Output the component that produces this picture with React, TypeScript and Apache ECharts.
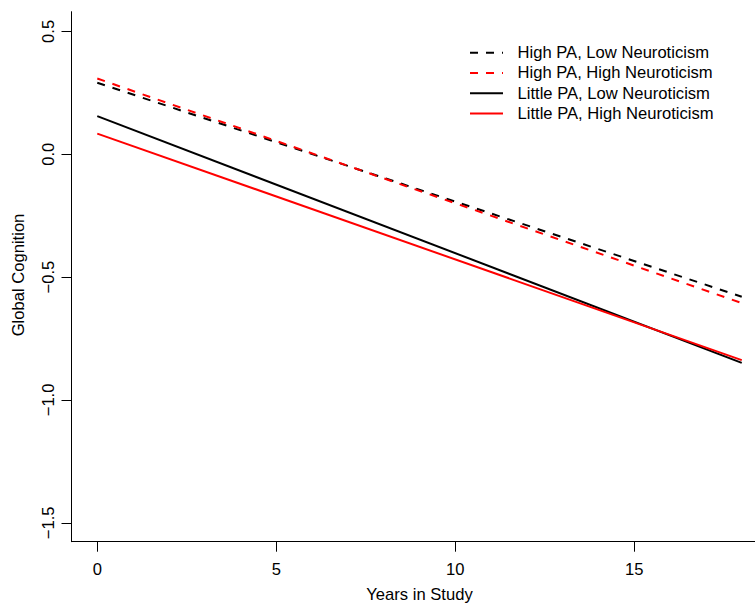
import React, { useEffect, useRef } from "react";
import * as echarts from "echarts";

const years = [0, 18];
const highPALowN = [0.291, -0.58];
const highPAHighN = [0.308, -0.606];
const littlePALowN = [0.155, -0.849];
const littlePAHighN = [0.084, -0.838];

const seriesNames = [
  "High PA, Low Neuroticism",
  "High PA, High Neuroticism",
  "Little PA, Low Neuroticism",
  "Little PA, High Neuroticism",
];
const xTicks = [0, 5, 10, 15];
const yTicks = [-1.5, -1.0, -0.5, 0.0, 0.5];

const FONT = "'Liberation Sans', Arial, Helvetica, sans-serif";
const FS = 16.6;

function pairs(vals: number[]) {
  return years.map((x, i) => [x, vals[i]]);
}

export default function App() {
  const ref = useRef<HTMLDivElement>(null);
  useEffect(() => {
    if (!ref.current) return;
    const chart = echarts.init(ref.current, undefined, { renderer: "svg" });
    const mk = (name: string, vals: number[], color: string, dashed: boolean) => ({
      name,
      type: "line",
      data: pairs(vals),
      symbol: "none",
      showSymbol: false,
      color,
      lineStyle: { color, width: 2, type: dashed ? [8, 8] : "solid" },
      emphasis: { disabled: true },
    });
    chart.setOption({
      animation: false,
      backgroundColor: "#fff",
      grid: { left: 71.5, top: 11.7, right: 0, height: 530, containLabel: false },
      xAxis: {
        type: "value",
        min: -0.72,
        max: 18.37,
        splitLine: { show: false },
        axisLine: { show: true, onZero: false, lineStyle: { color: "#000", width: 1 } },
        axisTick: { show: true, length: 10, customValues: xTicks, lineStyle: { color: "#000" } },
        axisLabel: {
          customValues: xTicks,
          margin: 19,
          color: "#000",
          fontSize: FS,
          fontFamily: FONT,
          formatter: (v: number) => String(v),
        },
      },
      yAxis: {
        type: "value",
        min: -1.577,
        max: 0.58,
        splitLine: { show: false },
        axisLine: { show: true, onZero: false, lineStyle: { color: "#000", width: 1 } },
        axisTick: { show: true, length: 10, customValues: yTicks, lineStyle: { color: "#000" } },
        axisLabel: {
          customValues: yTicks,
          rotate: 90,
          margin: 15,
          color: "#000",
          fontSize: FS,
          fontFamily: FONT,
          formatter: (v: number) => (v < 0 ? "\u2212" : "") + Math.abs(v).toFixed(1),
        },
      },
      legend: {
        orient: "vertical",
        left: 469,
        top: 42.5,
        padding: 0,
        itemGap: 0,
        itemWidth: 33,
        itemHeight: 14,
        selectedMode: false,
        data: seriesNames,
        itemStyle: { opacity: 0 },
        textStyle: {
          color: "#000",
          fontSize: FS,
          fontFamily: FONT,
          lineHeight: 20.3,
          padding: [0, 0, 0, 9.5],
        },
      },
      graphic: [
        {
          type: "text",
          x: 18,
          y: 275,
          rotation: Math.PI / 2,
          style: {
            text: "Global Cognition",
            fill: "#000",
            font: `${FS}px ${FONT}`,
            align: "center",
            verticalAlign: "middle",
          },
        },
        {
          type: "text",
          x: 419.5,
          y: 594,
          style: {
            text: "Years in Study",
            fill: "#000",
            font: `${FS}px ${FONT}`,
            align: "center",
            verticalAlign: "middle",
          },
        },
      ],
      series: [
        mk(seriesNames[0], highPALowN, "#000000", true),
        mk(seriesNames[1], highPAHighN, "#ff0000", true),
        mk(seriesNames[2], littlePALowN, "#000000", false),
        mk(seriesNames[3], littlePAHighN, "#ff0000", false),
      ],
    });
    return () => chart.dispose();
  }, []);
  return (
    <div
      ref={ref}
      style={{ position: "absolute", left: 0, top: 0, width: 755, height: 603, background: "#fff" }}
    />
  );
}
